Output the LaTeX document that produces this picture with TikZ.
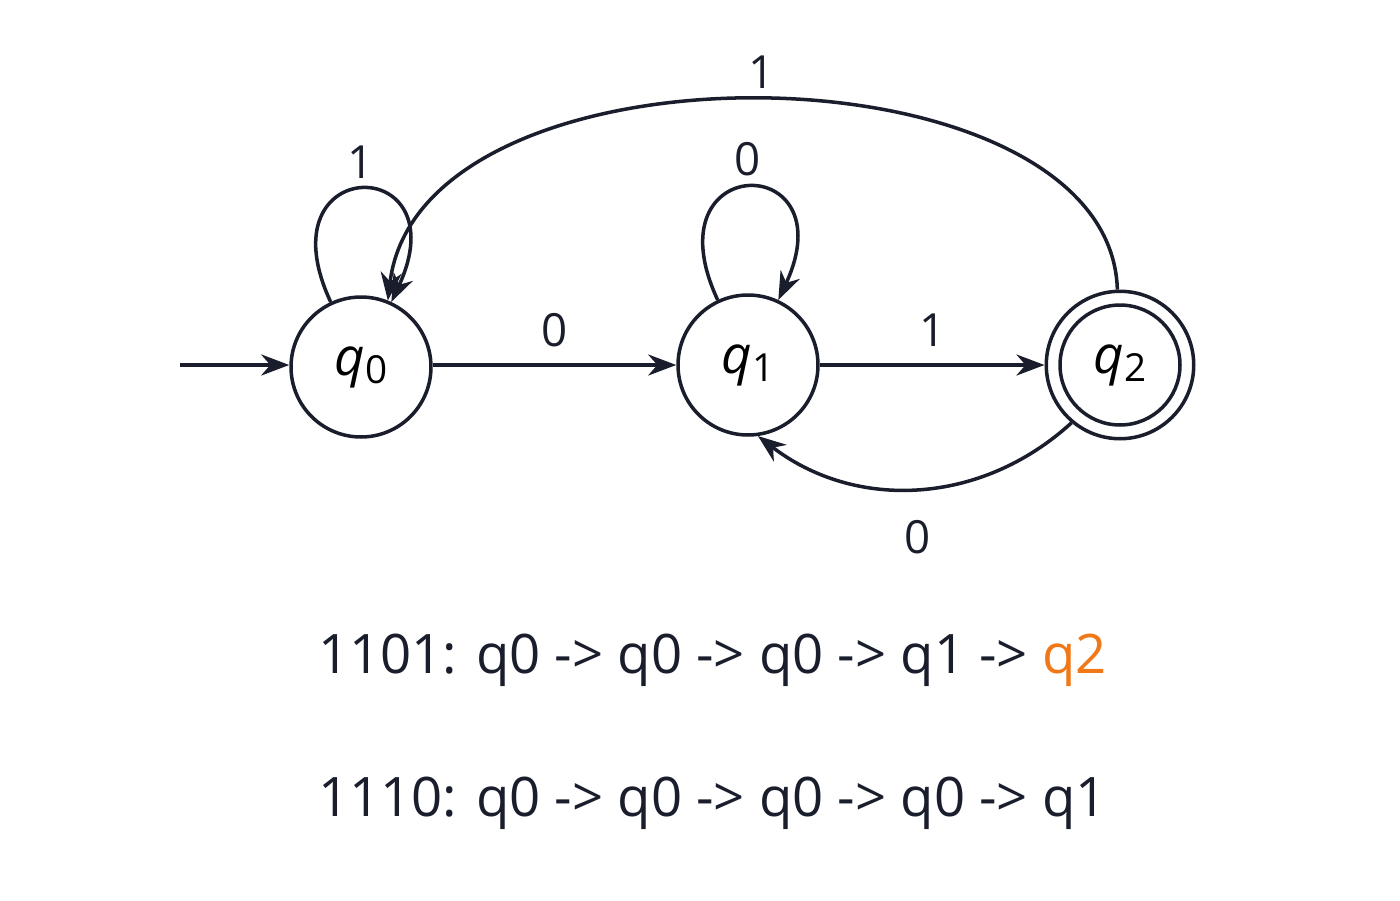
\documentclass[tikz,border=0pt]{standalone}
\usepackage{fontspec}
\setmainfont{Open Sans}
\usetikzlibrary{arrows.meta}
\definecolor{ink}{HTML}{1A1E2C}
\definecolor{accept_orange}{HTML}{F07818}
\newcommand{\qname}[1]{\fontsize{30}{34}\selectfont\textit{q}\raisebox{-5pt}{\fontsize{22}{26}\selectfont#1}}
\begin{document}
\begin{tikzpicture}[x=0.02cm,y=-0.02cm,
    state/.style={circle,draw=ink,line width=2pt,minimum size=2.8cm,inner sep=0pt},
    edge/.style={-{Stealth[length=16pt,width=12pt]},draw=ink,line width=2pt},
    lab/.style={text=ink,font=\fontsize{26}{30}\selectfont},
    run/.style={text=ink,font=\fontsize{31}{36}\selectfont,anchor=west}]
    \useasboundingbox (0,0) rectangle (1400,900);
    \node[state] (q0) at (361,367) {\qname{0}};
    \node[state] (q1) at (748,365) {\qname{1}};
    \node[state,minimum size=2.4cm] (q2) at (1120,365) {\qname{2}};
    \node[circle,draw=ink,line width=2pt,minimum size=2.95cm] (q2o) at (q2) {};
    \coordinate (start) at (180,365);
    \draw[edge] (start) -- (start-|q0.west);
    \draw[edge] (q0.east|-q1) -- node[lab,above=6pt] {0} (q1);
    \draw[edge] (q1) -- node[lab,above=6pt] {1} (q2o);
    \draw[edge] (q0.115) to[out=115,in=65,looseness=7] node[lab,above=2pt] {1} (q0.65);
    \draw[edge] (q1.115) to[out=115,in=65,looseness=7] node[lab,above=2pt] {0} (q1.65);
    \draw[edge] (q2o.92) .. controls (1110,40) and (420,30) .. node[lab,above=2pt,pos=0.5] {1} (q0.68);
    \draw[edge] (q2o.-130) to[bend left=40] node[lab,below=14pt] {0} (q1.-82);
    \node[run] (w1) at (312,660) {1101: q0 -> q0 -> q0 -> q1 -> \textcolor{accept_orange}{q2}};
    \node[run] (w2) at (312,803) {1110: q0 -> q0 -> q0 -> q0 -> q1};
\end{tikzpicture}
\end{document}
